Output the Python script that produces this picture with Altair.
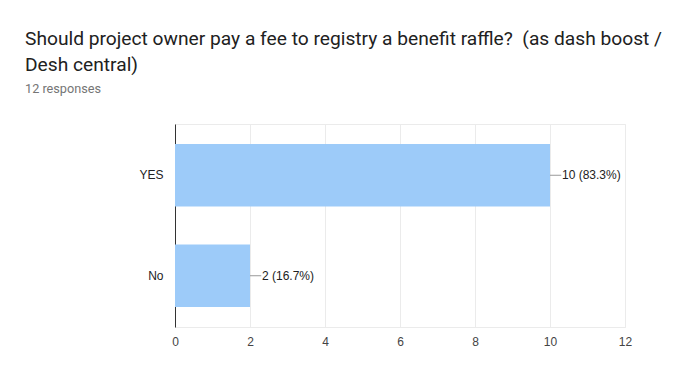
import altair as alt
import pandas as pd

categories = ["YES", "No"]
counts = [10, 2]
labels = ["10 (83.3%)", "2 (16.7%)"]
x_ticks = [0, 2, 4, 6, 8, 10, 12]
title_lines = ["Should project owner pay a fee to registry a benefit raffle?\u00a0 (as dash boost /",
               "Desh central)"]
subtitle = "12 responses"

df = pd.DataFrame({"cat": categories, "count": counts, "label": labels})

yenc = alt.Y("cat:N", sort=categories, title=None,
             scale=alt.Scale(paddingInner=0.376, paddingOuter=0.198),
             axis=alt.Axis(domain=True, domainColor="#333333", domainWidth=1,
                           ticks=False, grid=False, labelPadding=12,
                           labelFont="Liberation Sans", labelFontSize=12,
                           labelColor="#222222"))
xenc = alt.X("count:Q", title=None,
             scale=alt.Scale(domain=[0, 12], nice=False),
             axis=alt.Axis(values=x_ticks, domain=False, ticks=False, grid=True,
                           gridColor="#ebebeb", labelPadding=9, labelFlush=False,
                           labelFont="Liberation Sans", labelFontSize=12,
                           labelColor="#444444"))

base = alt.Chart(df).encode(y=yenc)

bars = base.mark_bar(color="#9dcbf9").encode(x=xenc)

rules = base.transform_calculate(end="datum.count + 0.3").mark_rule(
    color="#999999", strokeWidth=1).encode(x="count:Q", x2="end:Q")

texts = base.mark_text(align="left", dx=12, font="Liberation Sans",
                       fontSize=12, color="#222222").encode(
    x="count:Q", text="label:N")

chart = alt.layer(bars, rules, texts).properties(
    width=450, height=203,
    autosize=alt.AutoSizeParams(type="none"),
    padding={"left": 167, "top": 116, "right": 63, "bottom": 53},
    title=alt.TitleParams(text=title_lines, subtitle=subtitle, anchor="start",
                          frame="group",
                          font="Roboto", fontSize=19.2, fontWeight="normal",
                          color="#212121", lineHeight=26,
                          subtitleFont="Roboto", subtitleFontSize=12.7,
                          subtitleColor="#757575", subtitlePadding=8,
                          dx=-150, offset=28),
).configure_view(stroke="#ebebeb", strokeWidth=1)

chart.save("out.html", embed_options={"renderer": "svg", "actions": False})
